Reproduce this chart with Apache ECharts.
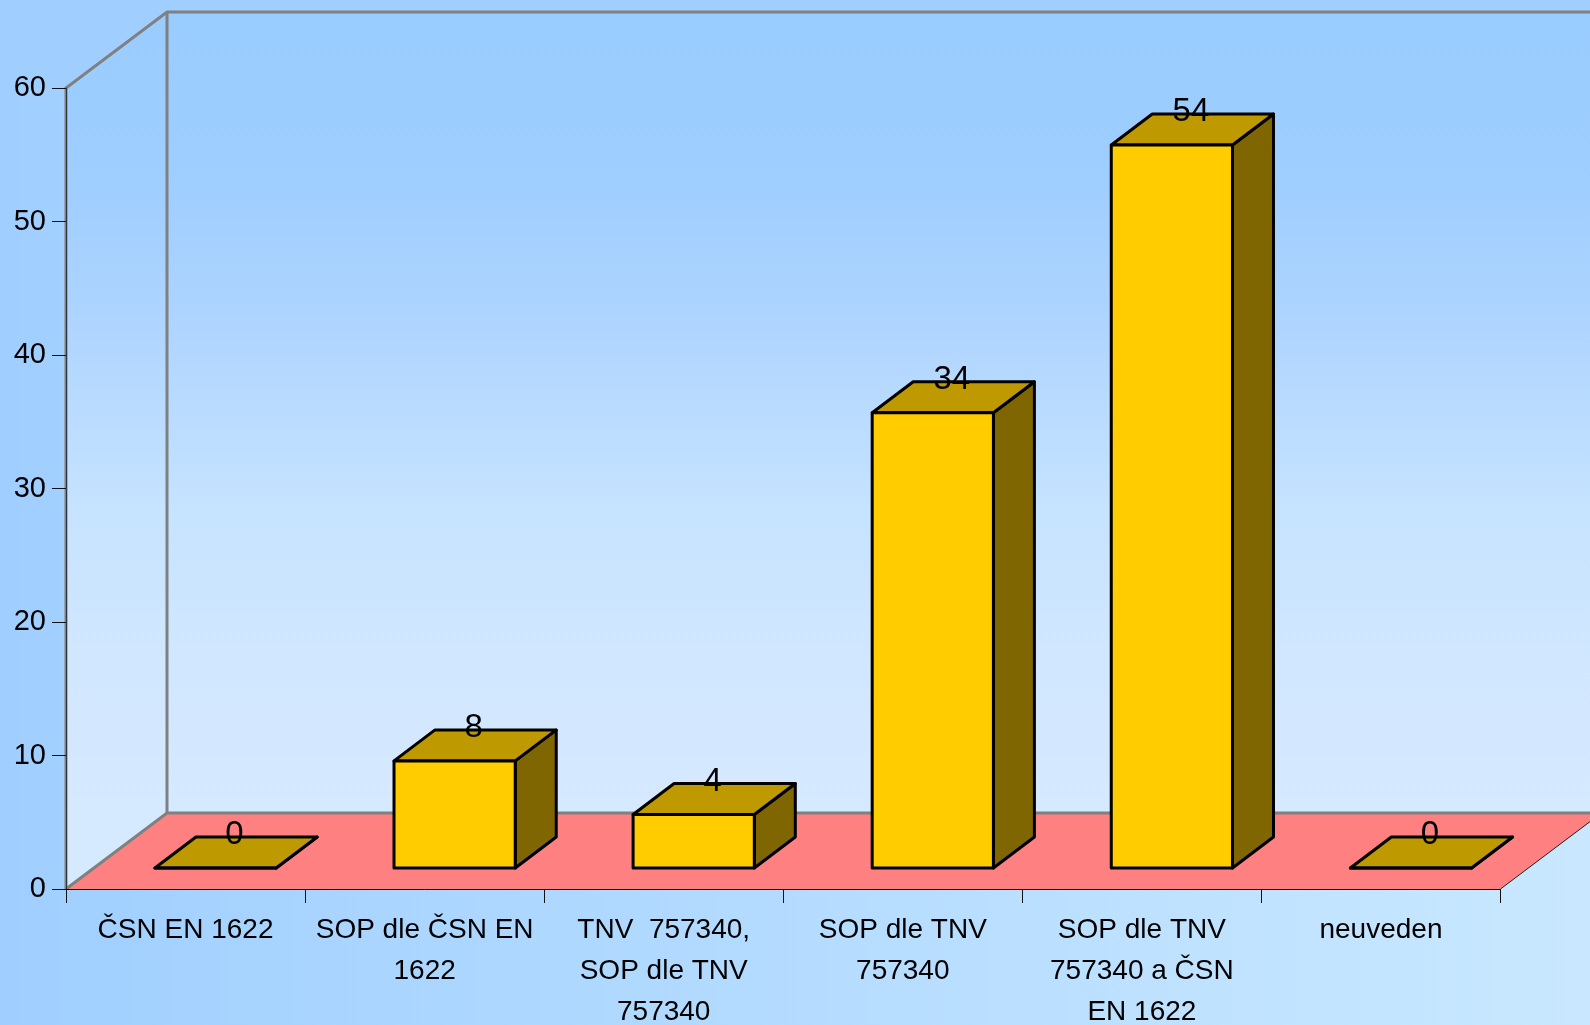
<!DOCTYPE html>
<html>
<head>
<meta charset="utf-8">
<style>html,body{margin:0;padding:0;overflow:hidden}#c{width:1590px;height:1025px}</style>
<script src="https://cdn.jsdelivr.net/npm/echarts@6/dist/echarts.min.js"></script>
</head>
<body>
<div id="c"></div>
<script>
const categories = ['ČSN EN 1622', 'SOP dle ČSN EN\n1622', 'TNV  757340,\nSOP dle TNV\n757340', 'SOP dle TNV\n757340', 'SOP dle TNV\n757340 a ČSN\nEN 1622', 'neuveden'];
const values = [0, 8, 4, 34, 54, 0];
const font = '"Liberation Sans", Arial, sans-serif';

const WALL_DX = 101, WALL_DY = 76;     // wall depth (oblique projection)
const BAR_DX = 41, BAR_DY = 31;        // bar depth
const BAR_SHIFT_X = 30, BAR_SHIFT_Y = 21; // bar plane behind the axis plane
const BAR_STRETCH = 1.003;             // depth plane sits slightly nearer, so scale differs

const chart = echarts.init(document.getElementById('c'), null, {renderer: 'canvas'});

function wallItem(params, api) {
  const cs = params.coordSys;
  const x0 = cs.x, x1 = cs.x + cs.width, yT = cs.y, yB = cs.y + cs.height;
  const bx0 = x0 + WALL_DX, bx1 = x1 + WALL_DX, byT = yT - WALL_DY, byB = yB - WALL_DY;
  const grad = new echarts.graphic.LinearGradient(0, byT, 0, byB, [
    {offset: 0, color: '#99CCFF'},
    {offset: 0.22, color: '#9FCEFF'},
    {offset: 0.385, color: '#AED4FF'},
    {offset: 0.62, color: '#C6E3FF'},
    {offset: 0.81, color: '#D1E7FF'},
    {offset: 1, color: '#D5E9FF'}
  ], true);
  const gray = {stroke: '#808080', lineWidth: 3, fill: null};
  return {
    type: 'group',
    children: [
      {type: 'polygon', shape: {points: [[0, 0], [api.getWidth(), 0], [api.getWidth(), byT], [bx0, byT], [x0, yT], [0, yT]]}, style: {fill: '#A0CFFF'}},
      {type: 'polygon', shape: {points: [[bx0, byT], [bx1, byT], [bx1, byB], [bx0, byB]]}, style: {fill: grad}},
      {type: 'polygon', shape: {points: [[x0, yT], [bx0, byT], [bx0, byB], [x0, yB]]}, style: {fill: grad}},
      {type: 'polygon', shape: {points: [[x0, yB], [bx0, byB], [bx1, byB], [x1, yB]]}, style: {fill: '#FF8080'}},
      {type: 'polyline', shape: {points: [[x0, yB], [x0, yT], [bx0, byT], [bx1, byT]]}, style: gray},
      {type: 'polyline', shape: {points: [[bx0, byT], [bx0, byB]]}, style: gray},
      {type: 'polyline', shape: {points: [[x0, yB], [bx0, byB], [bx1, byB]]}, style: gray},
      {type: 'polyline', shape: {points: [[x1, yB], [bx1, byB]]}, style: {stroke: '#222', lineWidth: 1, fill: null}}
    ]
  };
}

function barItem(params, api) {
  const i = api.value(0), v = api.value(1);
  const base = api.coord([i, 0]), top = api.coord([i, v]);
  const w = api.size([1, 0])[0] * 0.507;
  const xL = base[0] + BAR_SHIFT_X - w / 2, xR = xL + w;
  const yB = base[1] - BAR_SHIFT_Y, yT = yB - (base[1] - top[1]) * BAR_STRETCH;
  const ln = {stroke: '#000', lineWidth: 3, lineJoin: 'round'};
  const children = [
    {type: 'polygon', shape: {points: [[xR, yB], [xR + BAR_DX, yB - BAR_DY], [xR + BAR_DX, yT - BAR_DY], [xR, yT]]},
      style: Object.assign({fill: '#806600'}, ln)},
    {type: 'polygon', shape: {points: [[xL, yT], [xL + BAR_DX, yT - BAR_DY], [xR + BAR_DX, yT - BAR_DY], [xR, yT]]},
      style: Object.assign({fill: '#BF9900'}, ln)},
    {type: 'polygon', shape: {points: [[xL, yB], [xR, yB], [xR, yT], [xL, yT]]},
      style: Object.assign({fill: '#FFCC00'}, ln)},
    {type: 'text', style: {text: String(v), x: (xL + xR) / 2 + 19, y: yT - BAR_DY - 2, fill: '#000',
      font: '33px ' + font, align: 'center', verticalAlign: 'middle'}}
  ];
  return {type: 'group', children};
}

chart.setOption({
  animation: false,
  backgroundColor: new echarts.graphic.LinearGradient(0, 0, 1, 0, [
    {offset: 0, color: '#A0CFFF'}, {offset: 1, color: '#C9E8FF'}
  ]),
  grid: {left: 66, right: 89.5, top: 88, bottom: 136, containLabel: false, outerBoundsMode: 'none'},
  xAxis: {
    type: 'category', data: categories, z: 3,
    axisLine: {show: true, onZero: false, lineStyle: {color: '#000', width: 1}},
    axisTick: {show: true, length: 14, alignWithLabel: false, lineStyle: {color: '#111', width: 1}},
    axisLabel: {interval: 0, margin: 21, color: '#000', fontSize: 28, lineHeight: 41, fontFamily: font, verticalAlign: 'top', hideOverlap: false},
    splitLine: {show: false}
  },
  yAxis: {
    type: 'value', min: 0, max: 60, interval: 10, z: 3,
    axisLine: {show: true, lineStyle: {color: '#333', width: 1}},
    axisTick: {show: true, length: 14, lineStyle: {color: '#111', width: 1}},
    axisLabel: {margin: 20, color: '#000', fontSize: 29, fontFamily: font, padding: [0, 0, 3, 0]},
    splitLine: {show: false}
  },
  series: [
    {type: 'custom', z: 1, clip: false, silent: true, coordinateSystem: 'cartesian2d', renderItem: wallItem, data: [[0, 0]], encode: {x: 0, y: 1}},
    {type: 'custom', z: 4, clip: false, silent: true, coordinateSystem: 'cartesian2d', renderItem: barItem,
      data: values.map((v, i) => [i, v]), encode: {x: 0, y: 1}}
  ]
});
</script>
</body>
</html>
